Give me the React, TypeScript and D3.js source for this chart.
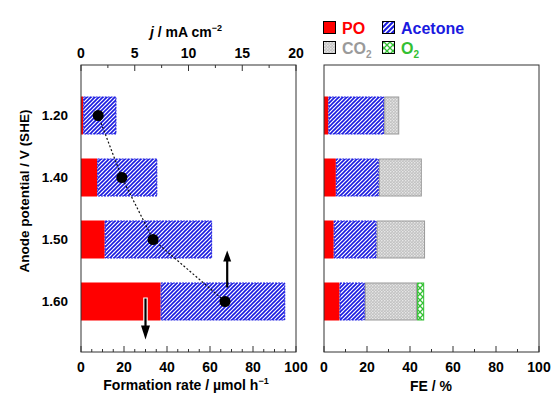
import React from "react";
import * as d3 from "d3";

// anode potentials (V vs SHE)
const potentials = ["1.20", "1.40", "1.50", "1.60"];
// formation rate, umol h-1
const poRate = [1, 7.5, 11, 37];
const acetoneRate = [15.5, 28, 50, 58];
// current density, mA cm-2
const currentDensity = [1.6, 3.8, 6.7, 13.4];
// faradaic efficiency, %
const fePO = [2, 5.5, 4.5, 7.2];
const feAcetone = [26, 20, 20, 11.8];
const feCO2 = [7, 20, 22.5, 24.3];
const feO2 = [0, 0, 0, 3.3];

const rateTicks = [0, 20, 40, 60, 80, 100];
const jTicks = [0, 5, 10, 15, 20];
const feTicks = [0, 20, 40, 60, 80, 100];

const FONT = "'Liberation Sans', Arial, sans-serif";
const BLUE = "#1a1ae0";
const RED = "#ff0000";
const GRAY = "#9a9a9a";
const GREEN = "#33c033";

const top = 65;
const bottom = 352;

export default function App() {
  const xRate = d3.scaleLinear().domain([0, 100]).range([81, 296]);
  const xJ = d3.scaleLinear().domain([0, 20]).range([81, 296]);
  const xFE = d3.scaleLinear().domain([0, 100]).range([324, 539]);
  const y = d3
    .scaleBand()
    .domain(potentials)
    .range([top, bottom])
    .paddingInner(0.387)
    .paddingOuter(0.508);
  const bw = y.bandwidth();
  const cy = (p: string) => (y(p) as number) + bw / 2;

  const line = d3
    .line<number>()
    .x((d) => xJ(d))
    .y((d, i) => cy(potentials[i]));

  // stacked segments for the left chart
  const leftSegs: any[] = [];
  potentials.forEach((p, i) => {
    leftSegs.push({ p, x0: 0, x1: poRate[i], kind: "po" });
    leftSegs.push({ p, x0: poRate[i], x1: poRate[i] + acetoneRate[i], kind: "ac" });
  });
  const rightSegs: any[] = [];
  potentials.forEach((p, i) => {
    let acc = 0;
    [
      [fePO[i], "po"],
      [feAcetone[i], "ac"],
      [feCO2[i], "co2"],
      [feO2[i], "o2"],
    ].forEach(([v, k]: any) => {
      if (v > 0) rightSegs.push({ p, x0: acc, x1: acc + v, kind: k });
      acc += v;
    });
  });

  const segRect = (s: any, xs: any, key: string) => {
    const x = xs(s.x0);
    const w = xs(s.x1) - xs(s.x0);
    const yy = y(s.p) as number;
    if (s.kind === "po")
      return <rect key={key} x={x} y={yy} width={w} height={bw} fill={RED} />;
    if (s.kind === "ac")
      return (
        <rect key={key} x={x + 0.5} y={yy + 0.5} width={w - 1} height={bw - 1}
          fill="url(#hatch)" stroke={BLUE} strokeWidth={1} strokeDasharray="2,1" />
      );
    if (s.kind === "co2")
      return (
        <rect key={key} x={x + 0.5} y={yy + 0.5} width={w - 1} height={bw - 1}
          fill="url(#dots)" stroke={GRAY} strokeWidth={1} />
      );
    return (
      <rect key={key} x={x + 0.5} y={yy + 0.5} width={w - 1} height={bw - 1}
        fill="url(#cross)" stroke={GREEN} strokeWidth={1} />
    );
  };

  const tickLabel = { fontFamily: FONT, fontSize: 14, fontWeight: "bold" as const };

  // arrows: up toward the j axis, down toward the rate axis
  const upX = xJ(13.6);
  const downX = xRate(30);
  const c4 = cy("1.60");

  return (
    <svg width={552} height={394} style={{ position: "absolute", left: 0, top: 0 }}>
      <defs>
        <pattern id="hatch" width={4} height={4} patternUnits="userSpaceOnUse">
          <rect width={4} height={4} fill="white" />
          <path d="M-1,1 L1,-1 M0,4 L4,0 M3,5 L5,3" stroke={BLUE} strokeWidth={1.6} />
        </pattern>
        <pattern id="hatchBig" width={5} height={5} patternUnits="userSpaceOnUse">
          <rect width={5} height={5} fill="white" />
          <path d="M-1,1 L1,-1 M0,5 L5,0 M4,6 L6,4" stroke={BLUE} strokeWidth={2} />
        </pattern>
        <pattern id="dots" width={3} height={3} patternUnits="userSpaceOnUse">
          <rect width={3} height={3} fill="#c2c2c2" />
          <circle cx={0.8} cy={0.8} r={0.7} fill="#f4f4f4" />
          <circle cx={2.3} cy={2.2} r={0.6} fill="#eeeeee" />
        </pattern>
        <pattern id="cross" width={6} height={6} patternUnits="userSpaceOnUse">
          <rect width={6} height={6} fill="white" />
          <path d="M0,0 L6,6 M6,0 L0,6" stroke={GREEN} strokeWidth={1.3} />
        </pattern>
      </defs>

      {/* left panel */}
      {leftSegs.map((s, i) => segRect(s, xRate, "l" + i))}
      <path d={line(currentDensity) || ""} fill="none" stroke="#111" strokeWidth={1.2} strokeDasharray="2,2" />
      {currentDensity.map((d, i) => (
        <circle key={i} cx={xJ(d)} cy={cy(potentials[i])} r={5.5} fill="#000" />
      ))}
      {/* up arrow */}
      <line x1={upX} x2={upX} y1={c4 - 14} y2={c4 - 42} stroke="#000" strokeWidth={2.2} />
      <path d={`M${upX - 4},${c4 - 40} L${upX},${c4 - 51} L${upX + 4},${c4 - 40} Z`} fill="#000" />
      {/* down arrow */}
      <line x1={downX} x2={downX} y1={c4 - 4} y2={c4 + 26} stroke="white" strokeWidth={4.5} />
      <line x1={downX} x2={downX} y1={c4 - 3} y2={c4 + 26} stroke="#000" strokeWidth={2.2} />
      <path d={`M${downX - 4.5},${c4 + 24} L${downX},${c4 + 38} L${downX + 4.5},${c4 + 24} Z`} fill="#000" />

      <rect x={81} y={top} width={215} height={bottom - top} fill="none" stroke="#333" strokeWidth={1} />
      {d3.range(0, 101, 5).map((v) => (
        <line key={"bt" + v} x1={xRate(v)} x2={xRate(v)} y1={bottom}
          y2={bottom - (v % 20 === 0 ? 6 : 3)} stroke="#333" />
      ))}
      {d3.range(0, 20.1, 2.5).map((v) => (
        <line key={"tt" + v} x1={xJ(v)} x2={xJ(v)} y1={top}
          y2={top + (v % 5 === 0 ? 6 : 3)} stroke="#333" />
      ))}
      {rateTicks.map((v) => (
        <text key={"bl" + v} x={xRate(v)} y={372} textAnchor="middle" {...tickLabel}>{v}</text>
      ))}
      {jTicks.map((v) => (
        <text key={"tl" + v} x={xJ(v)} y={58} textAnchor="middle" {...tickLabel}>{v}</text>
      ))}
      {potentials.map((p) => (
        <text key={"yl" + p} x={68} y={cy(p)} dy="0.35em" textAnchor="end" {...tickLabel} fontSize={13.5}>{p}</text>
      ))}
      <text x={186} y={37} textAnchor="middle" fontFamily={FONT} fontWeight="bold" fontSize={14}>
        <tspan fontStyle="italic">j</tspan> / mA cm
        <tspan dy={-6} fontSize={9}>−2</tspan>
      </text>
      <text x={186} y={390} textAnchor="middle" fontFamily={FONT} fontWeight="bold" fontSize={14}>
        Formation rate / µmol h
        <tspan dy={-6} fontSize={9}>−1</tspan>
      </text>
      <text transform="translate(29,191) rotate(-90)" textAnchor="middle" fontFamily={FONT} fontWeight="bold" fontSize={13.5}>
        Anode potential / V (SHE)
      </text>

      {/* right panel */}
      {rightSegs.map((s, i) => segRect(s, xFE, "r" + i))}
      <rect x={324} y={top} width={215} height={bottom - top} fill="none" stroke="#333" strokeWidth={1} />
      {d3.range(0, 101, 10).map((v) => (
        <line key={"rt" + v} x1={xFE(v)} x2={xFE(v)} y1={bottom}
          y2={bottom - (v % 20 === 0 ? 6 : 3)} stroke="#333" />
      ))}
      {feTicks.map((v) => (
        <text key={"rl" + v} x={xFE(v)} y={372} textAnchor="middle" {...tickLabel}>{v}</text>
      ))}
      <text x={431} y={391} textAnchor="middle" fontFamily={FONT} fontWeight="bold" fontSize={14}>FE / %</text>

      {/* legend */}
      <rect x={323.5} y={21.5} width={12} height={12} fill={RED} stroke="#000" strokeWidth={1} />
      <text x={342} y={34} fill={RED} fontFamily={FONT} fontWeight="bold" fontSize={16}>PO</text>
      <rect x={382.5} y={21.5} width={12} height={12} fill="url(#hatchBig)" stroke="#000" strokeWidth={1} />
      <text x={401} y={34} fill={BLUE} fontFamily={FONT} fontWeight="bold" fontSize={16}>Acetone</text>
      <rect x={323.5} y={41.5} width={12} height={12} fill="url(#dots)" stroke="#000" strokeWidth={1} />
      <text x={342} y={54} fill={GRAY} fontFamily={FONT} fontWeight="bold" fontSize={16}>
        CO<tspan dy={4} fontSize={10}>2</tspan>
      </text>
      <rect x={382.5} y={41.5} width={12} height={12} fill="url(#cross)" stroke="#000" strokeWidth={1} />
      <text x={401} y={54} fill={GREEN} fontFamily={FONT} fontWeight="bold" fontSize={16}>
        O<tspan dy={4} fontSize={10}>2</tspan>
      </text>
    </svg>
  );
}
